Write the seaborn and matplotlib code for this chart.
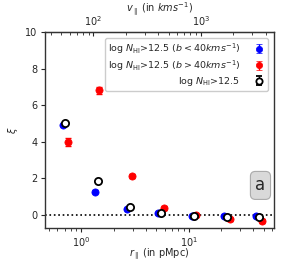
import numpy as np
import pandas as pd
import matplotlib
matplotlib.use("Agg")
import matplotlib.pyplot as plt
import seaborn as sns

# ---- data ----
r_blue = [0.67, 1.34, 2.65, 5.2, 10.7, 21.5, 42.4]
xi_blue = [4.92, 1.27, 0.33, 0.10, -0.05, -0.05, -0.05]
err_blue = [0.08, 0.08, 0.05, 0.05, 0.03, 0.03, 0.03]

r_red = [0.75, 1.47, 2.95, 5.9, 11.8, 24.0, 47.7]
xi_red = [4.00, 6.82, 2.15, 0.38, 0.00, -0.22, -0.33]
err_red = [0.20, 0.20, 0.12, 0.10, 0.08, 0.08, 0.10]

r_all = [0.71, 1.42, 2.84, 5.5, 11.2, 22.8, 45.4]
xi_all = [5.04, 1.87, 0.47, 0.10, -0.05, -0.10, -0.10]
err_all = [0.05, 0.06, 0.04, 0.03, 0.02, 0.02, 0.02]

labels = [r"log $N_{\rm HI}$>12.5 ($b<40kms^{-1}$)",
          r"log $N_{\rm HI}$>12.5 ($b>40kms^{-1}$)",
          r"log $N_{\rm HI}$>12.5"]
vel_ticks = [1e2, 1e3]
vel_factor = 77.0  # km/s per pMpc

sns.set_style("ticks")
plt.rcParams['font.family'] = ['DejaVu Sans']

fig = plt.figure(figsize=(2.83, 2.62), dpi=100)
ax = fig.add_axes([0.159, 0.13, 0.810, 0.748])

series = [
    (r_blue, xi_blue, err_blue, "blue", "blue", labels[0], 3),
    (r_red, xi_red, err_red, "red", "red", labels[1], 4),
    (r_all, xi_all, err_all, "white", "black", labels[2], 5),
]
handles = []
for r, xi, er, fc, ec, lab, z in series:
    df = pd.DataFrame({"r": r, "xi": xi})
    ax.errorbar(r, xi, yerr=er, fmt="none", ecolor=ec, elinewidth=1.0,
                capsize=2.5, capthick=1.0, zorder=z)
    sns.scatterplot(data=df, x="r", y="xi", ax=ax, s=27, color=fc,
                    edgecolor=ec, linewidth=1.3 if fc == "white" else 0.5,
                    zorder=z + 0.5, legend=False)
    # legend proxy placed outside the visible range
    h = ax.errorbar([1e-4], [0], yerr=[0.4], fmt="o", ms=4.5, mfc=fc, mec=ec,
                    mew=1.3 if fc == "white" else 0.5, ecolor=ec,
                    elinewidth=1.0, capsize=2.5, capthick=1.0, label=lab)
    handles.append(h)

ax.axhline(0, color="black", ls=":", lw=1.2, zorder=2)

ax.set_xscale("log")
ax.set_xlim(0.46, 62.5)
ax.set_ylim(-0.7, 10)
ax.set_yticks([0, 2, 4, 6, 8, 10])
ax.tick_params(axis="both", labelsize=7, length=3, width=0.8, pad=2.5)
ax.tick_params(axis="x", which="minor", length=2, width=0.6)
ax.set_xlabel(r"$r_{\parallel}$ (in pMpc)", fontsize=7, labelpad=-1.5)
ax.set_ylabel(r"$\xi$", fontsize=7, labelpad=4)
for s in ax.spines.values():
    s.set_linewidth(1.0)
    s.set_color("#333333")

sec = ax.secondary_xaxis("top", functions=(lambda r: r * vel_factor,
                                           lambda v: v / vel_factor))
sec.set_xticks(vel_ticks)
sec.tick_params(axis="x", which="both", direction="in", labelsize=7, pad=3)
sec.tick_params(axis="x", which="major", length=3)
sec.tick_params(axis="x", which="minor", length=2)
sec.set_xlabel(r"$v_{\parallel}$ (in $kms^{-1}$)", fontsize=7, labelpad=1)

leg = ax.legend(handles=handles, labels=labels, loc="upper right",
                fontsize=6.8, markerfirst=False, frameon=True,
                handlelength=1.2, handletextpad=1.4, borderpad=0.35,
                labelspacing=0.22, framealpha=1, edgecolor="#cccccc",
                bbox_to_anchor=(0.995, 0.992))

ax.text(0.94, 0.217, "a", transform=ax.transAxes, fontsize=12,
        ha="center", va="center",
        bbox=dict(boxstyle="round,pad=0.3", fc="#d9d9d9", ec="#aaaaaa", lw=0.8))

fig.savefig("out.png", dpi=100)
